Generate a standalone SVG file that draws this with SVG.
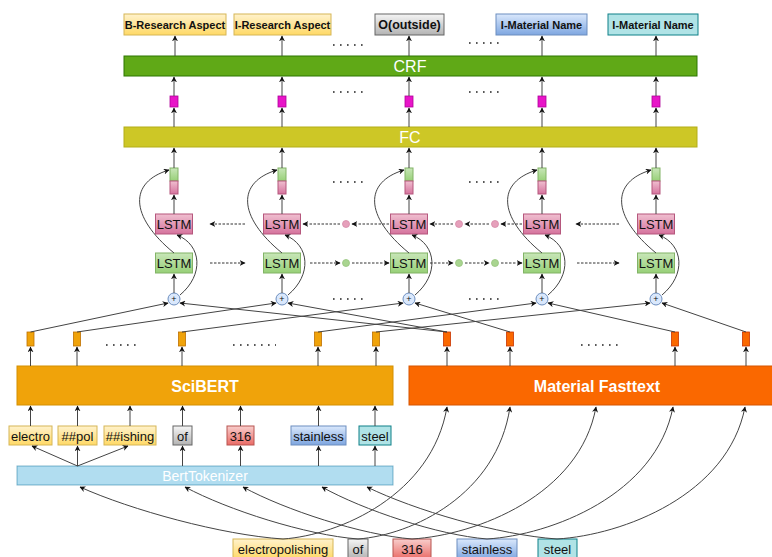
<svg xmlns="http://www.w3.org/2000/svg" width="772" height="557" viewBox="0 0 772 557">
  <defs>
    <linearGradient id="gYellow" x1="0" y1="0" x2="0" y2="1"><stop offset="0" stop-color="#fff2cc"/><stop offset="1" stop-color="#ffd966"/></linearGradient>
    <linearGradient id="gGray" x1="0" y1="0" x2="0" y2="1"><stop offset="0" stop-color="#f5f5f5"/><stop offset="1" stop-color="#b3b3b3"/></linearGradient>
    <linearGradient id="gBlue" x1="0" y1="0" x2="0" y2="1"><stop offset="0" stop-color="#dae8fc"/><stop offset="1" stop-color="#7ea6e0"/></linearGradient>
    <linearGradient id="gRed" x1="0" y1="0" x2="0" y2="1"><stop offset="0" stop-color="#f8cecc"/><stop offset="1" stop-color="#ea6b66"/></linearGradient>
    <linearGradient id="gGreen" x1="0" y1="0" x2="0" y2="1"><stop offset="0" stop-color="#c8e6b8"/><stop offset="1" stop-color="#97d077"/></linearGradient>
    <linearGradient id="gPink" x1="0" y1="0" x2="0" y2="1"><stop offset="0" stop-color="#f0bfd0"/><stop offset="1" stop-color="#d5739d"/></linearGradient>
    <marker id="arr" viewBox="0 0 10 10" refX="9" refY="5" markerWidth="6" markerHeight="6" orient="auto" markerUnits="userSpaceOnUse">
      <path d="M0,0 L10,5 L0,10 L3,5 Z" fill="#111"/>
    </marker>
  </defs>
  <style>
    .lbl { font-family: "Liberation Sans", Arial, sans-serif; font-weight: bold; font-size: 11px; fill: #111; text-anchor: middle; dominant-baseline: central; }
    .tok { font-family: "Liberation Sans", Arial, sans-serif; font-size: 13px; fill: #111; text-anchor: middle; dominant-baseline: central; }
    .bar { font-family: "Liberation Sans", Arial, sans-serif; font-size: 16px; fill: #fff; text-anchor: middle; dominant-baseline: central; }
    .barb { font-family: "Liberation Sans", Arial, sans-serif; font-size: 16px; font-weight: bold; fill: #fff; text-anchor: middle; dominant-baseline: central; }
    .lstm { font-family: "Liberation Sans", Arial, sans-serif; font-size: 13px; fill: #111; text-anchor: middle; dominant-baseline: central; }
    .plus { font-family: "Liberation Sans", Arial, sans-serif; font-size: 9px; fill: #111; text-anchor: middle; dominant-baseline: central; }
    .yel { fill: url(#gYellow); stroke: #d6b656; stroke-width: 1; }
    .gry { fill: url(#gGray); stroke: #666; stroke-width: 1; }
    .blu { fill: url(#gBlue); stroke: #6c8ebf; stroke-width: 1; }
    .red { fill: url(#gRed); stroke: #b85450; stroke-width: 1; }
    .tea { fill: #b0e3e6; stroke: #0e8088; stroke-width: 1; }
    .lp { fill: url(#gPink); stroke: #b5577d; stroke-width: 1; }
    .lg { fill: url(#gGreen); stroke: #82b366; stroke-width: 1; }
    .mag { fill: #e815c8; stroke: #b0009a; stroke-width: 0.8; }
    .vs { fill: #f0a30a; stroke: #bd7000; stroke-width: 0.8; }
    .vf { fill: #fa6800; stroke: #c73500; stroke-width: 0.8; }
    .pc { fill: #dae8fc; stroke: #6c8ebf; stroke-width: 1; }
    .dp { fill: #e6a0bb; stroke: #d58aa8; stroke-width: 0.8; }
    .dg { fill: #a9d590; stroke: #97c47e; stroke-width: 0.8; }
    .ln { fill: none; stroke: #444; stroke-width: 1; marker-end: url(#arr); }
    .dash { fill: none; stroke: #333; stroke-width: 1; stroke-dasharray: 2.5 1.5; marker-end: url(#arr); }
    .dots { fill: none; stroke: #222; stroke-width: 1.6; stroke-dasharray: 1.6 5.4; }
  </style>

  <!-- output tags -->
  <g id="tag-b-research"><rect class="yel" x="124" y="14" width="102" height="21"/><text class="lbl" x="175" y="25">B-Research Aspect</text></g>
  <g id="tag-i-research"><rect class="yel" x="234" y="14" width="97" height="21"/><text class="lbl" x="282.5" y="25">I-Research Aspect</text></g>
  <g id="tag-outside"><rect class="gry" x="375" y="14" width="69" height="21"/><text class="lbl" x="409.5" y="25" style="font-size:12.5px">O(outside)</text></g>
  <g id="tag-i-material-1"><rect class="blu" x="496" y="14" width="91" height="21"/><text class="lbl" x="541.5" y="25">I-Material Name</text></g>
  <g id="tag-i-material-2"><rect class="tea" x="608" y="14" width="90" height="21"/><text class="lbl" x="653" y="25">I-Material Name</text></g>

  <!-- CRF and FC layers -->
  <g id="crf"><rect x="124" y="56" width="573" height="20" fill="#60a917" stroke="#2d7600"/><text class="bar" x="410" y="66.5">CRF</text></g>
  <g id="fc"><rect x="124" y="127" width="573" height="20" fill="#cdc726" stroke="#b3ad18"/><text class="bar" x="410" y="137.5">FC</text></g>

  <!-- per-token columns -->
  <g id="col1">
    <rect class="mag" x="170" y="96" width="8" height="11"/>
    <rect class="lg" x="170" y="168" width="8" height="13"/><rect class="lp" x="170" y="181" width="8" height="13"/>
    <rect class="lp" x="155.5" y="214" width="37" height="20"/><text class="lstm" x="174" y="224.5">LSTM</text>
    <rect class="lg" x="155.5" y="253" width="37" height="20"/><text class="lstm" x="174" y="263.5">LSTM</text>
    <circle class="pc" cx="174" cy="299" r="6"/><text class="plus" x="174" y="299">+</text>
  </g>
  <g id="col2">
    <rect class="mag" x="278" y="96" width="8" height="11"/>
    <rect class="lg" x="278" y="168" width="8" height="13"/><rect class="lp" x="278" y="181" width="8" height="13"/>
    <rect class="lp" x="263.5" y="214" width="37" height="20"/><text class="lstm" x="282" y="224.5">LSTM</text>
    <rect class="lg" x="263.5" y="253" width="37" height="20"/><text class="lstm" x="282" y="263.5">LSTM</text>
    <circle class="pc" cx="282" cy="299" r="6"/><text class="plus" x="282" y="299">+</text>
  </g>
  <g id="col3">
    <rect class="mag" x="405" y="96" width="8" height="11"/>
    <rect class="lg" x="405" y="168" width="8" height="13"/><rect class="lp" x="405" y="181" width="8" height="13"/>
    <rect class="lp" x="390.5" y="214" width="37" height="20"/><text class="lstm" x="409" y="224.5">LSTM</text>
    <rect class="lg" x="390.5" y="253" width="37" height="20"/><text class="lstm" x="409" y="263.5">LSTM</text>
    <circle class="pc" cx="409" cy="299" r="6"/><text class="plus" x="409" y="299">+</text>
  </g>
  <g id="col4">
    <rect class="mag" x="538" y="96" width="8" height="11"/>
    <rect class="lg" x="538" y="168" width="8" height="13"/><rect class="lp" x="538" y="181" width="8" height="13"/>
    <rect class="lp" x="523.5" y="214" width="37" height="20"/><text class="lstm" x="542" y="224.5">LSTM</text>
    <rect class="lg" x="523.5" y="253" width="37" height="20"/><text class="lstm" x="542" y="263.5">LSTM</text>
    <circle class="pc" cx="542" cy="299" r="6"/><text class="plus" x="542" y="299">+</text>
  </g>
  <g id="col5">
    <rect class="mag" x="652" y="96" width="8" height="11"/>
    <rect class="lg" x="652" y="168" width="8" height="13"/><rect class="lp" x="652" y="181" width="8" height="13"/>
    <rect class="lp" x="637.5" y="214" width="37" height="20"/><text class="lstm" x="656" y="224.5">LSTM</text>
    <rect class="lg" x="637.5" y="253" width="37" height="20"/><text class="lstm" x="656" y="263.5">LSTM</text>
    <circle class="pc" cx="656" cy="299" r="6"/><text class="plus" x="656" y="299">+</text>
  </g>

  <!-- hidden-state dots between LSTM cells -->
  <g id="state-dots">
    <circle class="dp" cx="346" cy="224" r="3.5"/><circle class="dg" cx="346" cy="263" r="3.5"/>
    <circle class="dp" cx="459" cy="224" r="3.5"/><circle class="dg" cx="459" cy="263" r="3.5"/>
    <circle class="dp" cx="495" cy="224" r="3.5"/><circle class="dg" cx="495" cy="263" r="3.5"/>
  </g>

  <!-- embedding vectors -->
  <g id="scibert-vectors">
    <rect class="vs" x="27" y="332" width="7" height="14"/>
    <rect class="vs" x="73.5" y="332" width="7" height="14"/>
    <rect class="vs" x="178.5" y="332" width="7" height="14"/>
    <rect class="vs" x="314.5" y="332" width="7" height="14"/>
    <rect class="vs" x="372.5" y="332" width="7" height="14"/>
  </g>
  <g id="fasttext-vectors">
    <rect class="vf" x="443.5" y="332" width="7" height="14"/>
    <rect class="vf" x="506.5" y="332" width="7" height="14"/>
    <rect class="vf" x="671.5" y="332" width="7" height="14"/>
    <rect class="vf" x="742.5" y="332" width="7" height="14"/>
  </g>

  <!-- encoders -->
  <g id="scibert"><rect x="17" y="366" width="376" height="39" fill="#f0a30a" stroke="#d48f00"/><text class="barb" x="205" y="386">SciBERT</text></g>
  <g id="material-fasttext"><rect x="409" y="366" width="364" height="39" fill="#fa6800" stroke="#d65500"/><text class="barb" x="597" y="386">Material Fasttext</text></g>

  <!-- word pieces -->
  <g id="wp-electro"><rect class="yel" x="9" y="426" width="43" height="19"/><text class="tok" x="30.5" y="436">electro</text></g>
  <g id="wp-pol"><rect class="yel" x="58" y="426" width="39" height="19"/><text class="tok" x="77.5" y="436">##pol</text></g>
  <g id="wp-ishing"><rect class="yel" x="104" y="426" width="52" height="19"/><text class="tok" x="130" y="436">##ishing</text></g>
  <g id="wp-of"><rect class="gry" x="173" y="426" width="19" height="19"/><text class="tok" x="182.5" y="436">of</text></g>
  <g id="wp-316"><rect class="red" x="227" y="426" width="27" height="19"/><text class="tok" x="240.5" y="436">316</text></g>
  <g id="wp-stainless"><rect class="blu" x="291" y="426" width="55" height="19"/><text class="tok" x="318.5" y="436">stainless</text></g>
  <g id="wp-steel"><rect class="tea" x="359" y="426" width="32" height="19"/><text class="tok" x="375" y="436">steel</text></g>

  <g id="bert-tokenizer"><rect x="17" y="466" width="376" height="19" fill="#b1ddf0" stroke="#10739e" stroke-opacity="0.5"/><text class="bar" x="205" y="476" style="font-size:14px">BertTokenizer</text></g>

  <!-- input words -->
  <g id="w-electropolishing"><rect class="yel" x="233" y="539" width="100" height="20"/><text class="tok" x="283" y="549">electropolishing</text></g>
  <g id="w-of"><rect class="gry" x="348" y="539" width="20" height="20"/><text class="tok" x="358" y="549">of</text></g>
  <g id="w-316"><rect class="red" x="393" y="539" width="38" height="20"/><text class="tok" x="412" y="549">316</text></g>
  <g id="w-stainless"><rect class="blu" x="457" y="539" width="60" height="20"/><text class="tok" x="487" y="549">stainless</text></g>
  <g id="w-steel"><rect class="tea" x="538" y="539" width="39" height="20"/><text class="tok" x="557.5" y="549">steel</text></g>

  <!-- ellipsis marks -->
  <g id="ellipses">
    <path class="dots" d="M333,45 H366 M469,43 H502 M333,92 H366 M469,92 H502 M333,182 H366 M469,182 H502 M333,299 H366 M469,299 H502 M106,345 H140 M233,345 H276 M581,345 H620"/>
  </g>

  <g id="connectors">
    <!-- CRF to tags -->
    <path class="ln" d="M175,56 V36"/><path class="ln" d="M282,56 V36"/><path class="ln" d="M409,56 V36"/><path class="ln" d="M542,56 V36"/><path class="ln" d="M656,56 V36"/>
    <!-- scores to CRF -->
    <path class="ln" d="M174,96 V77"/><path class="ln" d="M282,96 V77"/><path class="ln" d="M409,96 V77"/><path class="ln" d="M542,96 V77"/><path class="ln" d="M656,96 V77"/>
    <!-- FC to scores -->
    <path class="ln" d="M174,127 V108"/><path class="ln" d="M282,127 V108"/><path class="ln" d="M409,127 V108"/><path class="ln" d="M542,127 V108"/><path class="ln" d="M656,127 V108"/>
    <!-- concatenated states to FC -->
    <path class="ln" d="M174,168 V148"/><path class="ln" d="M282,168 V148"/><path class="ln" d="M409,168 V148"/><path class="ln" d="M542,168 V148"/><path class="ln" d="M656,168 V148"/>
    <!-- backward cell to state -->
    <path class="ln" d="M174,214 V195"/><path class="ln" d="M282,214 V195"/><path class="ln" d="M409,214 V195"/><path class="ln" d="M542,214 V195"/><path class="ln" d="M656,214 V195"/>
    <!-- sum to forward cell -->
    <path class="ln" d="M174,293 V274"/><path class="ln" d="M282,293 V274"/><path class="ln" d="M409,293 V274"/><path class="ln" d="M542,293 V274"/><path class="ln" d="M656,293 V274"/>
    <!-- forward LSTM output skipping round the backward cell -->
    <path class="ln" d="M174,253 C129,216 129,182 169,170"/>
    <path class="ln" d="M282,253 C237,216 237,182 277,170"/>
    <path class="ln" d="M409,253 C364,216 364,182 404,170"/>
    <path class="ln" d="M542,253 C497,216 497,182 537,170"/>
    <path class="ln" d="M656,253 C611,216 611,182 651,170"/>
    <!-- summed embedding into the backward cell -->
    <path class="ln" d="M180,295 C204,275 202,245 177,235"/>
    <path class="ln" d="M288,295 C312,275 310,245 285,235"/>
    <path class="ln" d="M415,295 C439,275 437,245 412,235"/>
    <path class="ln" d="M548,295 C572,275 570,245 545,235"/>
    <path class="ln" d="M662,295 C686,275 684,245 659,235"/>
    <!-- forward recurrence -->
    <path class="dash" d="M210,263 H245"/>
    <path class="dash" d="M310,263 H340"/>
    <path class="dash" d="M352,263 H389"/>
    <path class="dash" d="M430,263 H453"/>
    <path class="dash" d="M465,263 H489"/>
    <path class="dash" d="M501,263 H522"/>
    <path class="dash" d="M577,263 H619"/>
    <!-- backward recurrence -->
    <path class="dash" d="M245,224 H210"/>
    <path class="dash" d="M340,224 H303"/>
    <path class="dash" d="M389,224 H352"/>
    <path class="dash" d="M453,224 H430"/>
    <path class="dash" d="M489,224 H465"/>
    <path class="dash" d="M522,224 H501"/>
    <path class="dash" d="M619,224 H576"/>
    <!-- SciBERT vectors into the sums -->
    <path class="ln" d="M30.5,332 L168,303"/>
    <path class="ln" d="M77,332 L276,303"/>
    <path class="ln" d="M182,332 L403,303"/>
    <path class="ln" d="M318,332 L536,303"/>
    <path class="ln" d="M376,332 L650,303"/>
    <!-- Fasttext vectors into the sums -->
    <path class="ln" d="M447,332 L180,303"/>
    <path class="ln" d="M447,332 L288,303"/>
    <path class="ln" d="M510,332 L415,303"/>
    <path class="ln" d="M675,332 L548,303"/>
    <path class="ln" d="M746,332 L662,303"/>
    <!-- encoder outputs -->
    <path class="ln" d="M30.5,366 V347"/><path class="ln" d="M77,366 V347"/><path class="ln" d="M182,366 V347"/><path class="ln" d="M318,366 V347"/><path class="ln" d="M376,366 V347"/>
    <path class="ln" d="M447,366 V347"/><path class="ln" d="M510,366 V347"/><path class="ln" d="M675,366 V347"/><path class="ln" d="M746,366 V347"/>
    <!-- word pieces into SciBERT -->
    <path class="ln" d="M30.5,426 V406"/><path class="ln" d="M77.5,426 V406"/><path class="ln" d="M130,426 V406"/><path class="ln" d="M182.5,426 V406"/><path class="ln" d="M240.5,426 V406"/><path class="ln" d="M318.5,426 V406"/><path class="ln" d="M375,426 V406"/>
    <!-- tokenizer into word pieces -->
    <path class="ln" d="M77.5,466 L32,446"/><path class="ln" d="M77.5,466 V446"/><path class="ln" d="M77.5,466 L128,446"/>
    <path class="ln" d="M182.5,466 V446"/><path class="ln" d="M240.5,466 V446"/><path class="ln" d="M318.5,466 V446"/><path class="ln" d="M375,466 V446"/>
    <!-- words into the tokenizer -->
    <path class="ln" d="M283,539 C222,535 131,510 80,487"/>
    <path class="ln" d="M358,539 C306,535 228,510 185,487"/>
    <path class="ln" d="M412,539 C362,535 285,510 243,487"/>
    <path class="ln" d="M487,539 C438,535 363,510 322,487"/>
    <path class="ln" d="M557,539 C499,535 414,510 367,487"/>
    <!-- words into Material Fasttext -->
    <path class="ln" d="M283,539 C340,535 432,495 447,407"/>
    <path class="ln" d="M358,539 C412,535 497,495 510,407"/>
    <path class="ln" d="M412,539 C477,535 580,495 596,407"/>
    <path class="ln" d="M487,539 C551,535 656,495 673,407"/>
    <path class="ln" d="M557,539 C623,535 728,495 745,407"/>
  </g>
</svg>
